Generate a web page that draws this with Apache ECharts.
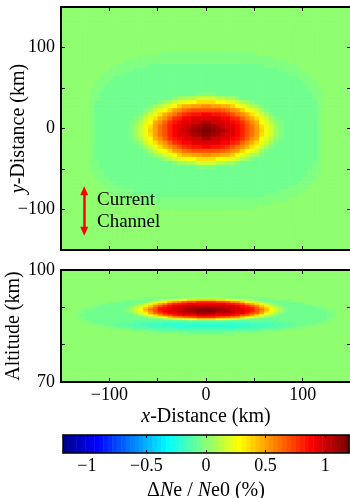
<!DOCTYPE html>
<html><head><meta charset="utf-8">
<script src="https://cdn.jsdelivr.net/npm/echarts@6/dist/echarts.min.js"></script>
<style>html,body{margin:0;padding:0;background:#fff}#c{width:350px;height:498px}</style>
</head><body><div id="c"></div>
<script>
const FONT = '"Liberation Serif", "Times New Roman", serif';

// ---- axis ranges and tick labels ----
const xRange = [-150, 150];          // x-Distance (km)
const yRange = [-150, 150];          // y-Distance (km)
const altRange = [70, 100];          // Altitude (km)
const colorRange = [-1.2, 1.2];      // dNe/Ne0 (%)
const xTickLabels = [-100, 0, 100];
const yTickLabels = [-100, 0, 100];
const altTickLabels = [70, 100];
const colorTickLabels = [-1, -0.5, 0, 0.5, 1];

// ---- value levels used in the grids (percent) ----
const levels = {'.':0, a:-0.02, b:-0.05, c:-0.09, d:-0.13, e:-0.17, f:-0.20,
  A:0.05, B:0.10, C:0.15, D:0.20, E:0.25, F:0.30, G:0.35, H:0.40, I:0.45, J:0.50,
  K:0.55, L:0.60, M:0.65, N:0.70, O:0.75, P:0.80, Q:0.85, R:0.90, S:0.95, T:1.00,
  U:1.05, V:1.10, W:1.15, X:1.20};

// ---- top panel: rows from y=+150 (top) to y=-150, columns x=-150..150 (5 km cells) ----
const topRows = [
"............................................................",
"............................................................",
"............................................................",
"............................................................",
"............................................................",
"............................................................",
"............................................................",
"............................................................",
"............................................................",
"............................................................",
"............................................................",
"....................aaaaaaaaaaaaaaaaaaaa....................",
"................aaaaaaaaaaaaaaaaaaaaaaaaaaaa................",
".............aaaaaaaaaaaaaaaaaaaaaaaaaaaaaaaaaa.............",
"...........aaaaaaabbbbbbbbbbbbbbbbbbbbbbbbaaaaaaa...........",
"..........aaaaabbbbbbbbbbbbbbbbbbbbbbbbbbbbbbaaaaa..........",
".........aaaabbbbbbbbbbbbbbbbbbbbbbbbbbbbbbbbbbaaaa.........",
"........aaabbbbbbbbbbbbbbbbbbbbbbbbbbbbbbbbbbbbbbaaa........",
".......aaabbbbbbbbbbbbbbbbbbbbbbbbbbbbbbbbbbbbbbbbaaa.......",
".......aabbbbbbbbbbbbbbbbbbbbbbbbbbbbbbbbbbbbbbbbbbaa.......",
"......aaa" + "bbbbbbbbbb" + "bbbbbbbbbb" + "bbbbbbbbbb" + "bbbbbbbbbb" + "bb" + "aaa......",
"......aabbbbbbbbbbbbbbbbbbbbaaaabbbbbbbbbbbbbbbbbbbbaa......",
"......aabbbbbbbbbbbbbbbaAABBCCCCBBAAabbbbbbbbbbbbbbbaa......",
"......abbbbbbbbbbbbbaABCDEFFGGGGFFEDCBAabbbbbbbbbbbbba......",
"......abbbbbbbbbbbaABCEFHIIJJKKJJIIHFECBAabbbbbbbbbbba......",
"......abbbbbbbbbbaACEFHJKLMNNNNNNMLKJHFECAabbbbbbbbbba......",
"......abbbbbbbbbaACEGIKLNOPQQRRQQPONLKIGECAabbbbbbbbba......",
"......abbbbbbbbaACEGIKMOPRRSSSSSSRRPOMKIGECAabbbbbbbba......",
"......abbbbbbba.BDFIKMOQRSSTTUUTTSSRQOMKIFDB.abbbbbbba......",
"......abbbbbbbaACEGJLNPRSSTUVWWVUTSSRPNLJGECAabbbbbbba......",
"......abbbbbbbaACEHJLNPRSTUVWXXWVUTSRPNLJHECAabbbbbbba......",
"......abbbbbbbaACEGJLNPRSSTUVWWVUTSSRPNLJGECAabbbbbbba......",
"......abbbbbbba.BDFIKMOQRSSTTUUTTSSRQOMKIFDB.abbbbbbba......",
"......abbbbbbbbaACEGIKMOPRRSSSSSSRRPOMKIGECAabbbbbbbba......",
"......abbbbbbbbbaACEGIKLNOPQQRRQQPONLKIGECAabbbbbbbbba......",
"......abbbbbbbbbbaACEFHJKLMNNNNNNMLKJHFECAabbbbbbbbbba......",
"......abbbbbbbbbbbaABCEFHIIJJKKJJIIHFECBAabbbbbbbbbbba......",
"......abbbbbbbbbbbbbaABCDEFFGGGGFFEDCBAabbbbbbbbbbbbba......",
"......aabbbbbbbbbbbbbbbaAABBCCCCBBAAabbbbbbbbbbbbbbbaa......",
"......aabbbbbbbbbbbbbbbbbbbbaaaabbbbbbbbbbbbbbbbbbbbaa......",
"......aaa" + "bbbbbbbbbb" + "bbbbbbbbbb" + "bbbbbbbbbb" + "bbbbbbbbbb" + "bb" + "aaa......",
".......aabbbbbbbbbbbbbbbbbbbbbbbbbbbbbbbbbbbbbbbbbbaa.......",
".......aaabbbbbbbbbbbbbbbbbbbbbbbbbbbbbbbbbbbbbbbbaaa.......",
"........aaabbbbbbbbbbbbbbbbbbbbbbbbbbbbbbbbbbbbbbaaa........",
".........aaaabbbbbbbbbbbbbbbbbbbbbbbbbbbbbbbbbbaaaa.........",
"..........aaaaabbbbbbbbbbbbbbbbbbbbbbbbbbbbbbaaaaa..........",
"...........aaaaaaabbbbbbbbbbbbbbbbbbbbbbbbaaaaaaa...........",
".............aaaaaaaaaaaaaaaaaaaaaaaaaaaaaaaaaa.............",
"................aaaaaaaaaaaaaaaaaaaaaaaaaaaa................",
"....................aaaaaaaaaaaaaaaaaaaa....................",
"............................................................",
"............................................................",
"............................................................",
"............................................................",
"............................................................",
"............................................................",
"............................................................",
"............................................................",
"............................................................",
"............................................................"
];

// ---- bottom panel: rows from altitude 100 (top) to 70 (0.5 km), columns x=-150..150 (5 km) ----
const bottomRows = [
"............................................................",
"............................................................",
"............................................................",
"............................................................",
"............................................................",
"............................................................",
"............................................................",
"............................................................",
"............................................................",
"............................................................",
"............................................................",
"............................................................",
"............................................................",
"............................................................",
"................aaaaaaaa.AABBBBBBAA.aaaaaaaa................",
"............aaaaabbaABCDEFGGHHHHGGFEDCBAabbaaaaa............",
"..........aaabbbbaBCEFHJKMNNOOOONNMKJHFECBabbbbaaa..........",
"........aabbbbbaACEGIKNOPQRRRRRRRRQPONKIGECAabbbbbaa........",
"......aabbbbbbaACEHKMOQRSSTTTTTTTTSSRQOMKHECAabbbbbbaa......",
".....aabbbbbbaACEHJMPQRSTTUUVVVVUUTTSRQPMJHECAabbbbbbaa.....",
"....aabbbbbbbaACFILNQRSTTUVVWXXWVVUTTSRQNLIFCAabbbbbbbaa....",
"...aabbbbbbbbaACEHKNPRSSTUUVWWWWVUUTSSRPNKHECAabbbbbbbbaa...",
"...aabbbbbbbbbaBDFILNPRRSTTTUUUUTTTSRRPNLIFDBabbbbbbbbbaa...",
"...abbbbbbbbbbbaBCEGJLNPQRRRSSSSRRRQPNLJGECBabbbbbbbbbbba...",
"...aabbbbbbbbbbbbaBCEFHJKLMNOOOONMLKJHFECBabbbbbbbbbbbbaa...",
"....abbbbbbbbbbbbbbbbABCDEFFGGGGFFEDCBAbbbbbbbbbbbbbbbba....",
"....aabbbbbbbbbccccccdddddccccccccdddddccccccbbbbbbbbbaa....",
".....aabbbbbccccdddddeeeeeeeeeeeeeeeeeedddddccccbbbbbaa.....",
"......aaabbcccdddeeeeffffffffffffffffffeeeedddcccbbaaa......",
"........aaabcccdddeeeeeffffffffffffffeeeeedddcccbaaa........",
"..........aaaabccccdddddeeeeeeeeeeeedddddccccbaaaa..........",
".............aaaaabbccccccccccccccccccccbbaaaaa.............",
".................aaaaaaaaabbbbbbbbaaaaaaaaa.................",
"........................aaaaaaaaaaaa........................",
"............................................................",
"............................................................",
"............................................................",
"............................................................",
"............................................................",
"............................................................",
"............................................................",
"............................................................",
"............................................................",
"............................................................",
"............................................................",
"............................................................",
"............................................................",
"............................................................",
"............................................................",
"............................................................",
"............................................................",
"............................................................",
"............................................................",
"............................................................",
"............................................................",
"............................................................",
"............................................................",
"............................................................"
];

// annotation: current channel arrow (data units of the top panel)
const channelArrow = {x: -126, yTop: -77, yBottom: -127};

const problems = [];
function buildCells(rows, xr, yr, tag) {
  const nCol = 60, nRow = rows.length;
  const w = (xr[1] - xr[0]) / nCol, h = (yr[1] - yr[0]) / nRow;
  const out = [];
  rows.forEach((row, j) => {
    if (row.length !== nCol) problems.push(tag + ' row ' + j + ' len ' + row.length);
    for (let i = 0; i < Math.min(nCol, row.length); i++) {
      const v = levels[row[i]];
      if (v === undefined) { problems.push(tag + ' bad ' + row[i]); continue; }
      out.push([xr[0] + (i + 0.5) * w, yr[1] - (j + 0.5) * h, v]);
    }
  });
  return {data: out, w: w, h: h};
}
const topCells = buildCells(topRows, xRange, yRange, 'top');
const botCells = buildCells(bottomRows, xRange, altRange, 'bottom');

// MATLAB jet(64) colormap
function jet64(n) {
  let r, g, b;
  if (n <= 8) { r = 0; g = 0; b = (n + 8) / 16; }
  else if (n <= 24) { r = 0; g = (n - 8) / 16; b = 1; }
  else if (n <= 40) { r = (n - 24) / 16; g = 1; b = (40 - n) / 16; }
  else if (n <= 56) { r = 1; g = (56 - n) / 16; b = 0; }
  else { r = (72 - n) / 16; g = 0; b = 0; }
  return 'rgb(' + Math.round(r * 255) + ',' + Math.round(g * 255) + ',' + Math.round(b * 255) + ')';
}
const jetColors = [];
for (let n = 1; n <= 64; n++) jetColors.push(jet64(n));
const cMin = colorRange[0], cSpan = colorRange[1] - colorRange[0];
function bound(k) { return (cMin * 64 + k * cSpan) / 64; }
const pieces = jetColors.map((col, k) => {
  if (k === 0) return {lt: bound(1), color: col};
  if (k === 63) return {gte: bound(63), color: col};
  return {gte: bound(k), lt: bound(k + 1), color: col};
});

function cellRenderer(w, h) {
  return function (params, api) {
    const p = api.coord([api.value(0), api.value(1)]);
    const s = api.size([w, h]);
    return {type: 'rect', silent: true,
      shape: {x: p[0] - s[0] / 2, y: p[1] - s[1] / 2, width: s[0] + 0.6, height: s[1] + 0.6},
      style: {fill: api.visual('color')}};
  };
}

const minus = v => String(v).replace('-', '\u2212');
const tickStyle = {show: true, inside: true, length: 4, lineStyle: {color: '#000', width: 1}};
const lineStyle = {show: true, onZero: false, lineStyle: {color: '#000', width: 2}};
const labelBase = {color: '#000', fontFamily: FONT, fontSize: 18};
const nameStyle = {color: '#000', fontFamily: FONT, fontSize: 20,
  rich: {i: {fontStyle: 'italic', fontFamily: FONT, fontSize: 20, color: '#000'},
         n: {fontFamily: FONT, fontSize: 20, color: '#000'}}};

function ax(o) {
  return Object.assign({type: 'value', z: 10, axisLine: lineStyle, axisTick: tickStyle,
    axisLabel: {show: false}, splitLine: {show: false}, nameMoveOverlap: false}, o);
}

const option = {
  animation: false,
  backgroundColor: '#fff',
  grid: [
    {left: 61, top: 7, width: 290, height: 243, containLabel: false, outerBoundsMode: 'none'},
    {left: 61, top: 270, width: 290, height: 112, containLabel: false, outerBoundsMode: 'none'},
    {left: 63, top: 435, width: 286, height: 18, containLabel: false, outerBoundsMode: 'none'}
  ],
  xAxis: [
    ax({gridIndex: 0, position: 'bottom', min: xRange[0], max: xRange[1], interval: 50}),
    ax({gridIndex: 0, position: 'top', min: xRange[0], max: xRange[1], interval: 50}),
    ax({gridIndex: 1, position: 'bottom', min: xRange[0], max: xRange[1], interval: 50,
        axisLabel: Object.assign({show: true, margin: 4, customValues: xTickLabels, formatter: minus}, labelBase),
        name: '{i|x}-Distance (km)', nameLocation: 'middle', nameGap: 25, nameTextStyle: nameStyle}),
    ax({gridIndex: 1, position: 'top', min: xRange[0], max: xRange[1], interval: 50}),
    ax({gridIndex: 2, position: 'bottom', min: colorRange[0], max: colorRange[1],
        axisLine: {show: true, onZero: false, lineStyle: {color: '#000', width: 1.5}},
        axisTick: {show: true, inside: true, length: 3, customValues: colorTickLabels, lineStyle: {color: '#000', width: 1}},
        axisLabel: Object.assign({show: true, margin: 4, customValues: colorTickLabels, formatter: minus}, labelBase),
        name: '{n|\u0394}{i|N}{n|e / }{i|N}{n|e0 (%)}', nameLocation: 'middle', nameGap: 28, nameTextStyle: nameStyle}),
    ax({gridIndex: 2, position: 'top', min: colorRange[0], max: colorRange[1],
        axisLine: {show: true, onZero: false, lineStyle: {color: '#000', width: 1.5}},
        axisTick: {show: true, inside: true, length: 3, customValues: colorTickLabels, lineStyle: {color: '#000', width: 1}}})
  ],
  yAxis: [
    ax({gridIndex: 0, position: 'left', min: yRange[0], max: yRange[1], interval: 50,
        axisLabel: Object.assign({show: true, margin: 6, customValues: yTickLabels, formatter: minus}, labelBase),
        name: '{i|y}-Distance (km)', nameLocation: 'middle', nameGap: 32, nameRotate: 90, nameTextStyle: nameStyle}),
    ax({gridIndex: 0, position: 'right', min: yRange[0], max: yRange[1], interval: 50}),
    ax({gridIndex: 1, position: 'left', min: altRange[0], max: altRange[1], interval: 10,
        axisLabel: Object.assign({show: true, margin: 6, customValues: altTickLabels}, labelBase),
        name: 'Altitude (km)', nameLocation: 'middle', nameGap: 37, nameRotate: 90, nameTextStyle: nameStyle}),
    ax({gridIndex: 1, position: 'right', min: altRange[0], max: altRange[1], interval: 10}),
    ax({gridIndex: 2, position: 'left', min: 0, max: 1,
        axisLine: {show: true, onZero: false, lineStyle: {color: '#000', width: 1.5}}, axisTick: {show: false}}),
    ax({gridIndex: 2, position: 'right', min: 0, max: 1,
        axisLine: {show: true, onZero: false, lineStyle: {color: '#000', width: 1.5}}, axisTick: {show: false}})
  ],
  visualMap: {type: 'piecewise', show: false, dimension: 2, seriesIndex: [0, 1], pieces: pieces},
  series: [
    {type: 'custom', coordinateSystem: 'cartesian2d', xAxisIndex: 0, yAxisIndex: 0, z: 1,
     dimensions: ['x', 'y', 'v'], encode: {x: 0, y: 1}, data: topCells.data, clip: true, silent: true,
     renderItem: cellRenderer(topCells.w, topCells.h),
     markLine: {silent: true, animation: false, symbol: ['triangle', 'triangle'], symbolSize: [8, 9],
       lineStyle: {color: '#ff0000', width: 2.5, type: 'solid'}, label: {show: false},
       emphasis: {disabled: true},
       data: [[{coord: [channelArrow.x, channelArrow.yTop]}, {coord: [channelArrow.x, channelArrow.yBottom]}]]}},
    {type: 'custom', coordinateSystem: 'cartesian2d', xAxisIndex: 2, yAxisIndex: 2, z: 1,
     dimensions: ['x', 'y', 'v'], encode: {x: 0, y: 1}, data: botCells.data, clip: true, silent: true,
     renderItem: cellRenderer(botCells.w, botCells.h)},
    {type: 'custom', coordinateSystem: 'cartesian2d', xAxisIndex: 4, yAxisIndex: 4, z: 1, silent: true,
     encode: {x: [0, 1], y: [2, 3]}, data: [[colorRange[0], colorRange[1], 0, 1]],
     renderItem: function (params, api) {
       const lo = api.value(0), hi = api.value(1);
       const children = [];
       for (let k = 0; k < 64; k++) {
         const a = (lo * 64 + k * (hi - lo)) / 64, b = (lo * 64 + (k + 1) * (hi - lo)) / 64;
         const p0 = api.coord([a, api.value(3)]), p1 = api.coord([b, api.value(2)]);
         children.push({type: 'rect', shape: {x: p0[0], y: p0[1], width: p1[0] - p0[0] + 0.5, height: p1[1] - p0[1]},
           style: {fill: jetColors[k]}});
       }
       return {type: 'group', children: children};
     }}
  ],
  graphic: [
    {type: 'text', left: 97, top: 189, silent: true, z: 100,
     style: {text: 'Current\nChannel', fontFamily: FONT, fontSize: 19, lineHeight: 22, fill: '#000'}}
  ]
};

const chart = echarts.init(document.getElementById('c'), null, {renderer: 'canvas', width: 350, height: 498});
chart.setOption(option);
if (problems.length) { throw new Error('DATA PROBLEMS: ' + problems.join('; ')); }
</script>
</body></html>
